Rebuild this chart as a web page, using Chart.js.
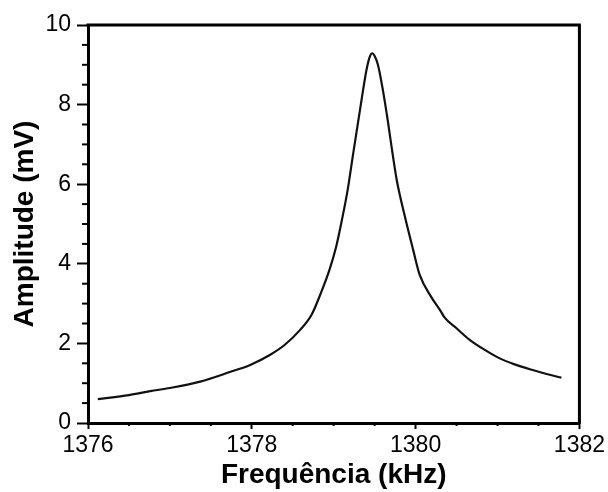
<!DOCTYPE html>
<html>
<head>
<meta charset="utf-8">
<script src="https://cdn.jsdelivr.net/npm/chart.js@4/dist/chart.umd.min.js"></script>
<style>
  html, body { margin: 0; padding: 0; background: #fff; }
  #wrap { width: 608px; height: 492px; position: relative; }
</style>
</head>
<body>
<div id="wrap"><canvas id="c"></canvas></div>
<script>
// Data
const frequencyKHz = [
  1376.12, 1376.50, 1376.76, 1377.00, 1377.37, 1377.73, 1377.98, 1378.22,
  1378.40, 1378.59, 1378.73, 1378.85, 1378.95, 1379.03, 1379.10, 1379.17,
  1379.24, 1379.34, 1379.40, 1379.44, 1379.47, 1379.50, 1379.54, 1379.60,
  1379.66, 1379.72, 1379.77, 1379.87, 1379.97, 1380.05, 1380.19, 1380.31,
  1380.35, 1380.50, 1380.66, 1380.85, 1381.02, 1381.20, 1381.43, 1381.60,
  1381.78
];
const amplitudeMV = [
  0.60, 0.70, 0.80, 0.88, 1.04, 1.28, 1.46, 1.71,
  1.96, 2.34, 2.72, 3.30, 3.86, 4.43, 5.10, 5.85,
  6.80, 8.12, 8.87, 9.20, 9.29, 9.22, 9.00, 8.37,
  7.60, 6.75, 6.10, 5.18, 4.35, 3.72, 3.17, 2.80,
  2.66, 2.38, 2.09, 1.83, 1.63, 1.48, 1.33, 1.23,
  1.14
];
const xTickLabels = [1376, 1378, 1380, 1382];
const yTickLabels = [0, 2, 4, 6, 8, 10];
const xAxisTitle = 'Frequência (kHz)';
const yAxisTitle = 'Amplitude (mV)';

const points = frequencyKHz.map((f, i) => ({ x: f, y: amplitudeMV[i] }));
const FONT = "'Liberation Sans', Arial, Helvetica, sans-serif";

const minorTicks = {
  id: 'minorTicks',
  afterDraw(chart) {
    const ctx = chart.ctx;
    const area = chart.chartArea;
    const xs = chart.scales.x, ys = chart.scales.y;
    ctx.save();
    ctx.strokeStyle = '#000';
    ctx.lineWidth = 2;
    xs.ticks.forEach(t => {
      if (xTickLabels.includes(t.value)) return;
      const px = xs.getPixelForValue(t.value);
      ctx.beginPath(); ctx.moveTo(px, area.bottom); ctx.lineTo(px, area.bottom + 3); ctx.stroke();
    });
    ys.ticks.forEach(t => {
      if (yTickLabels.includes(t.value)) return;
      const py = ys.getPixelForValue(t.value);
      ctx.beginPath(); ctx.moveTo(area.left, py); ctx.lineTo(area.left - 6, py); ctx.stroke();
    });
    // frame: top and right edges
    ctx.lineWidth = 3;
    ctx.beginPath();
    ctx.moveTo(area.left - 1.5, area.top);
    ctx.lineTo(area.right, area.top);
    ctx.lineTo(area.right, area.bottom + 1.5);
    ctx.stroke();
    ctx.restore();
  }
};

new Chart(document.getElementById('c'), {
  type: 'scatter',
  data: {
    datasets: [{
      data: points,
      showLine: true,
      borderColor: '#111',
      borderWidth: 2.2,
      pointRadius: 0,
      cubicInterpolationMode: 'monotone',
      fill: false
    }]
  },
  options: {
    responsive: true,
    maintainAspectRatio: false,
    animation: false,
    events: [],
    layout: { padding: { top: 25, right: 28, left: 0, bottom: 0 } },
    plugins: { legend: { display: false }, tooltip: { enabled: false } },
    scales: {
      x: {
        type: 'linear',
        min: 1376, max: 1382,
        afterFit(s) { s.height = 69; },
        border: { display: true, color: '#000', width: 3 },
        grid: {
          drawOnChartArea: false, drawTicks: true, tickLength: 6,
          tickWidth: 2,
          tickColor: c => (c.tick && xTickLabels.includes(c.tick.value)) ? '#000' : 'rgba(0,0,0,0)'
        },
        ticks: {
          stepSize: 0.5, autoSkip: false, maxRotation: 0, padding: 3,
          color: '#000',
          font: { family: FONT, size: 23 },
          callback: v => xTickLabels.includes(v) ? String(v) : ''
        },
        title: {
          display: true, text: xAxisTitle, color: '#000',
          font: { family: FONT, size: 28, weight: 'bold' },
          padding: { top: 0, bottom: 0 }
        }
      },
      y: {
        type: 'linear',
        min: 0, max: 10,
        afterFit(s) { s.width = 88; },
        border: { display: true, color: '#000', width: 3 },
        grid: {
          drawOnChartArea: false, drawTicks: true, tickLength: 11,
          tickWidth: 2,
          tickColor: c => (c.tick && yTickLabels.includes(c.tick.value)) ? '#000' : 'rgba(0,0,0,0)'
        },
        ticks: {
          stepSize: 0.5, autoSkip: false, padding: 6,
          color: '#000',
          font: { family: FONT, size: 23 },
          callback: v => yTickLabels.includes(v) ? String(v) : ''
        },
        title: {
          display: true, text: yAxisTitle, color: '#000',
          font: { family: FONT, size: 28, weight: 'bold' },
          padding: { top: 8, bottom: 0 }
        }
      }
    }
  },
  plugins: [minorTicks]
});
</script>
</body>
</html>
